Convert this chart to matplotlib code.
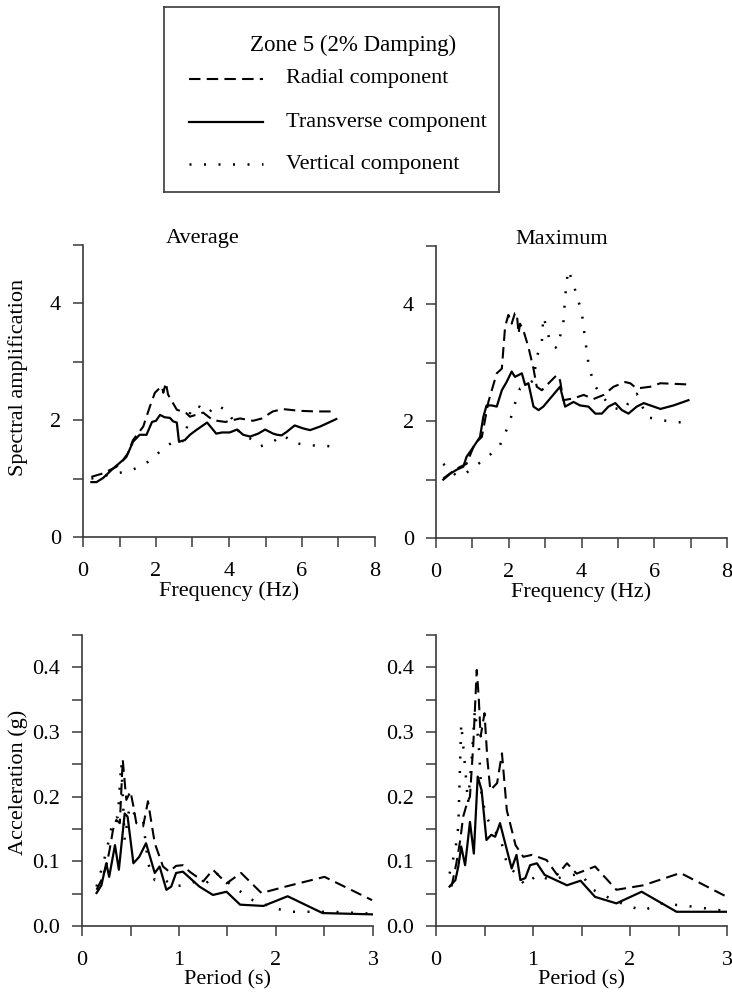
import matplotlib
matplotlib.use("Agg")
import matplotlib.pyplot as plt
from matplotlib.lines import Line2D

plt.rcParams['font.family'] = ['Liberation Serif', 'DejaVu Serif']

# ---- Spectral amplification, average (frequency in Hz) ----
avg_f_rad = [0.23, 0.55, 0.91, 1.19, 1.37, 1.65, 1.83, 1.97, 2.10, 2.16, 2.20, 2.27, 2.33,
             2.57, 2.83, 2.93, 3.29, 3.56, 3.9, 4.3, 4.66, 4.9, 5.2, 5.48, 5.94, 6.4, 6.94]
avg_a_rad = [1.03, 1.09, 1.2, 1.37, 1.66, 1.89, 2.23, 2.47, 2.55, 2.58, 2.47, 2.64, 2.44,
             2.18, 2.12, 2.06, 2.13, 2.0, 1.97, 2.03, 1.99, 2.03, 2.15, 2.19, 2.16, 2.15, 2.15]
avg_f_tra = [0.23, 0.37, 0.55, 0.82, 1.1, 1.23, 1.37, 1.55, 1.74, 1.89, 2.0, 2.11, 2.24, 2.38,
             2.47, 2.57, 2.63, 2.79, 2.93, 3.1, 3.4, 3.65, 3.81, 4.02, 4.22, 4.39, 4.58,
             4.8, 4.99, 5.21, 5.32, 5.44, 5.58, 5.8, 6.03, 6.22, 6.49, 6.94]
avg_a_tra = [0.94, 0.94, 1.01, 1.17, 1.32, 1.43, 1.63, 1.75, 1.75, 1.97, 1.99, 2.09, 2.05, 2.04,
             1.98, 1.96, 1.63, 1.66, 1.75, 1.83, 1.96, 1.77, 1.79, 1.79, 1.84, 1.75, 1.72,
             1.77, 1.84, 1.77, 1.75, 1.74, 1.8, 1.91, 1.86, 1.83, 1.89, 2.02]
avg_f_ver = [0.23, 0.82, 1.28, 1.6, 1.87, 2.15, 2.42, 2.7, 2.83, 2.97, 3.2, 3.43, 3.65, 3.93,
             4.11, 4.3, 4.57, 4.84, 5.16, 5.48, 5.76, 6.22, 6.94]
avg_a_ver = [1.0, 1.08, 1.13, 1.22, 1.32, 1.49, 1.61, 1.6, 1.83, 2.23, 2.23, 2.12, 2.26, 2.17,
             2.0, 1.77, 1.69, 1.55, 1.61, 1.75, 1.61, 1.57, 1.55]

# ---- Spectral amplification, maximum ----
max_f_rad = [0.2, 0.57, 0.84, 1.07, 1.26, 1.44, 1.67, 1.81, 1.9, 1.99, 2.08, 2.17, 2.22, 2.27,
             2.31, 2.4, 2.54, 2.68, 2.77, 2.91, 3.05, 3.32, 3.41, 3.5, 3.78, 4.06, 4.33,
             4.61, 4.88, 5.2, 5.34, 5.52, 5.89, 6.17, 6.9]
max_a_rad = [1.02, 1.19, 1.27, 1.62, 1.73, 2.33, 2.82, 2.9, 3.62, 3.82, 3.67, 3.85, 3.85, 3.5,
             3.67, 3.56, 3.27, 2.9, 2.59, 2.53, 2.62, 2.79, 2.7, 2.36, 2.39, 2.45, 2.38,
             2.45, 2.59, 2.67, 2.65, 2.56, 2.59, 2.65, 2.63]
max_f_tra = [0.2, 0.39, 0.57, 0.75, 0.84, 1.03, 1.21, 1.3, 1.39, 1.53, 1.67, 1.81, 1.94, 2.08,
             2.17, 2.27, 2.36, 2.45, 2.54, 2.68, 2.82, 2.95, 3.18, 3.41, 3.55, 3.78, 3.96,
             4.19, 4.38, 4.56, 4.74, 4.93, 5.11, 5.29, 5.52, 5.71, 5.94, 6.17, 6.53, 6.94]
max_a_tra = [1.0, 1.1, 1.17, 1.22, 1.39, 1.56, 1.73, 2.07, 2.27, 2.27, 2.25, 2.53, 2.67, 2.85,
             2.76, 2.79, 2.82, 2.62, 2.65, 2.25, 2.19, 2.25, 2.42, 2.59, 2.25, 2.33, 2.27,
             2.25, 2.13, 2.13, 2.25, 2.31, 2.19, 2.13, 2.25, 2.31, 2.26, 2.21, 2.27, 2.36]
max_f_ver = [0.2, 0.57, 0.8, 1.07, 1.3, 1.53, 1.76, 1.9, 2.04, 2.17, 2.31, 2.5, 2.68, 2.77,
             2.91, 2.95, 3.05, 3.14, 3.32, 3.41, 3.5, 3.55, 3.63, 3.78, 3.87, 4.0, 4.09,
             4.19, 4.33, 4.51, 4.7, 4.93, 5.16, 5.34, 5.52, 5.8, 6.17, 6.53, 6.94]
max_a_ver = [1.27, 1.06, 1.1, 1.23, 1.33, 1.45, 1.59, 1.79, 2.02, 2.3, 2.56, 2.62, 2.7, 3.1,
             3.36, 3.79, 3.59, 3.33, 3.25, 3.45, 3.67, 4.13, 4.59, 4.36, 4.13, 3.9, 3.45,
             2.99, 2.65, 2.47, 2.33, 2.22, 2.19, 2.36, 2.47, 2.07, 2.02, 1.99, 1.97]

# ---- Acceleration spectra, average (period in s) ----
avg_t_rad = [0.15, 0.2, 0.25, 0.285, 0.32, 0.354, 0.39, 0.42, 0.457, 0.5, 0.53, 0.56, 0.63,
             0.68, 0.75, 0.835, 0.9, 0.97, 1.04, 1.11, 1.25, 1.35, 1.49, 1.64, 1.85, 2.1,
             2.5, 2.99]
avg_g_rad = [0.056, 0.071, 0.092, 0.118, 0.149, 0.164, 0.159, 0.257, 0.195, 0.208, 0.185,
             0.159, 0.154, 0.193, 0.128, 0.092, 0.084, 0.093, 0.094, 0.084, 0.069, 0.087,
             0.066, 0.082, 0.051, 0.061, 0.076, 0.040]
avg_t_tra = [0.15, 0.2, 0.25, 0.28, 0.34, 0.38, 0.44, 0.47, 0.53, 0.59, 0.66, 0.75, 0.8,
             0.87, 0.92, 0.97, 1.04, 1.21, 1.35, 1.49, 1.63, 1.87, 2.12, 2.48, 2.99]
avg_g_tra = [0.051, 0.063, 0.097, 0.076, 0.125, 0.087, 0.174, 0.169, 0.097, 0.107, 0.128,
             0.082, 0.092, 0.056, 0.061, 0.082, 0.084, 0.061, 0.048, 0.053, 0.033, 0.031,
             0.046, 0.020, 0.018]
avg_t_ver = [0.15, 0.22, 0.27, 0.32, 0.37, 0.405, 0.44, 0.49, 0.56, 0.63, 0.68, 0.75, 0.835,
             0.94, 1.04, 1.18, 1.28, 1.38, 1.56, 1.76, 2.0, 2.14, 2.59, 2.99]
avg_g_ver = [0.061, 0.097, 0.128, 0.164, 0.169, 0.252, 0.133, 0.185, 0.169, 0.164, 0.097,
             0.071, 0.074, 0.061, 0.063, 0.069, 0.066, 0.082, 0.061, 0.040, 0.027, 0.022,
             0.022, 0.019]

# ---- Acceleration spectra, maximum ----
max_t_rad = [0.16, 0.21, 0.25, 0.28, 0.32, 0.35, 0.385, 0.42, 0.44, 0.46, 0.5, 0.53, 0.56,
             0.63, 0.68, 0.73, 0.82, 0.9, 0.99, 1.14, 1.25, 1.35, 1.45, 1.64, 1.86, 2.14,
             2.52, 3.0]
max_g_rad = [0.061, 0.097, 0.133, 0.169, 0.19, 0.2, 0.282, 0.396, 0.355, 0.293, 0.329,
             0.257, 0.21, 0.221, 0.267, 0.179, 0.125, 0.107, 0.11, 0.102, 0.079, 0.097,
             0.081, 0.092, 0.056, 0.063, 0.082, 0.045]
max_t_tra = [0.14, 0.2, 0.23, 0.26, 0.3, 0.35, 0.39, 0.43, 0.47, 0.52, 0.57, 0.61, 0.66,
             0.73, 0.78, 0.83, 0.87, 0.92, 0.97, 1.04, 1.12, 1.35, 1.49, 1.64, 1.86, 2.12,
             2.48, 3.0]
max_g_tra = [0.061, 0.071, 0.092, 0.123, 0.094, 0.161, 0.112, 0.231, 0.21, 0.133, 0.141,
             0.138, 0.159, 0.118, 0.089, 0.11, 0.071, 0.074, 0.094, 0.097, 0.079, 0.063,
             0.07, 0.045, 0.035, 0.053, 0.022, 0.022]
max_t_ver = [0.14, 0.2, 0.23, 0.26, 0.3, 0.33, 0.37, 0.4, 0.44, 0.47, 0.52, 0.59, 0.66,
             0.73, 0.82, 0.92, 1.04, 1.18, 1.31, 1.49, 1.62, 1.83, 2.0, 2.14, 2.31, 2.59, 3.0]
max_g_ver = [0.081, 0.118, 0.154, 0.313, 0.246, 0.19, 0.262, 0.334, 0.282, 0.2, 0.169,
             0.148, 0.138, 0.097, 0.081, 0.063, 0.079, 0.071, 0.076, 0.081, 0.056, 0.04,
             0.03, 0.024, 0.035, 0.031, 0.023]

legend_title = "Zone 5 (2% Damping)"
series_names = ["Radial component", "Transverse component", "Vertical component"]
panel_titles = ["Average", "Maximum"]

FS = 16
W, H = 732, 997
STY_RAD = dict(color="black", lw=1.5, linestyle=(0, (5.5, 3.0)))
STY_TRA = dict(color="black", lw=1.6, linestyle="-")
STY_VER = dict(color="black", lw=1.8, linestyle=(0, (0.8, 5.0)))
SPINE_C = "#3a3a3a"

fig = plt.figure(figsize=(W / 100, H / 100), dpi=100)


def box(x0, x1, ytop, ybot):
    return [x0 / W, 1 - ybot / H, (x1 - x0) / W, (ybot - ytop) / H]


def style_axes(ax, xlim, xticks, xlabels, ylim, yticks, ylabels):
    ax.set_xlim(*xlim)
    ax.set_ylim(*ylim)
    for s in ("top", "right"):
        ax.spines[s].set_visible(False)
    for s in ("left", "bottom"):
        ax.spines[s].set_color(SPINE_C)
        ax.spines[s].set_linewidth(1.2)
    ax.set_xticks(xticks)
    ax.set_xticklabels(xlabels, fontsize=FS)
    ax.set_yticks(yticks)
    ax.set_yticklabels(ylabels, fontsize=FS)
    ax.tick_params(axis="both", direction="out", length=7, width=1.1, color=SPINE_C)
    ax.tick_params(axis="x", pad=11)
    ax.tick_params(axis="y", pad=9)


freq_ticks = list(range(0, 9))
freq_labels = [str(t) if t % 2 == 0 else "" for t in freq_ticks]
amp_ticks = list(range(0, 6))
amp_labels = [str(t) if t % 2 == 0 else "" for t in amp_ticks]
per_ticks = [0, 0.5, 1, 1.5, 2, 2.5, 3]
per_labels = ["0", "", "1", "", "2", "", "3"]
acc_ticks = [i * 0.05 for i in range(10)]
acc_labels = [f"{t:.1f}" if i % 2 == 0 else "" for i, t in enumerate(acc_ticks)]

# Top row: spectral amplification
ax1 = fig.add_axes(box(83, 375, 245, 537))
ax2 = fig.add_axes(box(436, 727, 246, 538))
for ax, (fr, ar, ft, at, fv, av) in zip(
        (ax1, ax2),
        ((avg_f_rad, avg_a_rad, avg_f_tra, avg_a_tra, avg_f_ver, avg_a_ver),
         (max_f_rad, max_a_rad, max_f_tra, max_a_tra, max_f_ver, max_a_ver))):
    ax.plot(fv, av, **STY_VER)
    ax.plot(fr, ar, **STY_RAD)
    ax.plot(ft, at, **STY_TRA)
    style_axes(ax, (0, 8), freq_ticks, freq_labels, (0, 5), amp_ticks, amp_labels)
    ax.set_xlabel("Frequency (Hz)", fontsize=FS, labelpad=0)

# Bottom row: acceleration spectra
ax3 = fig.add_axes(box(82, 373, 635, 926))
ax4 = fig.add_axes(box(436, 727, 635, 926))
for ax, (tr, gr, tt, gt, tv, gv) in zip(
        (ax3, ax4),
        ((avg_t_rad, avg_g_rad, avg_t_tra, avg_g_tra, avg_t_ver, avg_g_ver),
         (max_t_rad, max_g_rad, max_t_tra, max_g_tra, max_t_ver, max_g_ver))):
    ax.plot(tv, gv, **STY_VER)
    ax.plot(tr, gr, **STY_RAD)
    ax.plot(tt, gt, **STY_TRA)
    style_axes(ax, (0, 3), per_ticks, per_labels, (0, 0.45), acc_ticks, acc_labels)
    ax.set_xlabel("Period (s)", fontsize=FS, labelpad=0)

# Y-axis labels and panel titles
fig.text(18 / W, 1 - 377 / H, "Spectral amplification", rotation=90,
         ha="center", va="center", fontsize=FS)
fig.text(18 / W, 1 - 782 / H, "Acceleration (g)", rotation=90,
         ha="center", va="center", fontsize=FS)
fig.text(203 / W, 1 - 239 / H, panel_titles[0], ha="center", va="center", fontsize=FS)
fig.text(562 / W, 1 - 239 / H, panel_titles[1], ha="center", va="center", fontsize=FS)

# Legend box
lg = fig.add_axes(box(164, 499, 7, 192))
lg.set_xlim(164, 499)
lg.set_ylim(192, 7)
lg.set_xticks([])
lg.set_yticks([])
for sp in lg.spines.values():
    sp.set_linewidth(1.2)
    sp.set_color(SPINE_C)
lg.patch.set_alpha(0)
lg.text(250, 45, legend_title, ha="left", va="center", fontsize=FS + 0.5)
rows_y = [79, 122, 164]
styles = [STY_RAD, STY_TRA, STY_VER]
for yy, name, sty in zip(rows_y, series_names, styles):
    lg.add_line(Line2D([189, 263], [yy, yy], **sty))
    lg.text(286, yy, name, ha="left", va="center", fontsize=FS)

fig.savefig("out.png", dpi=100)
